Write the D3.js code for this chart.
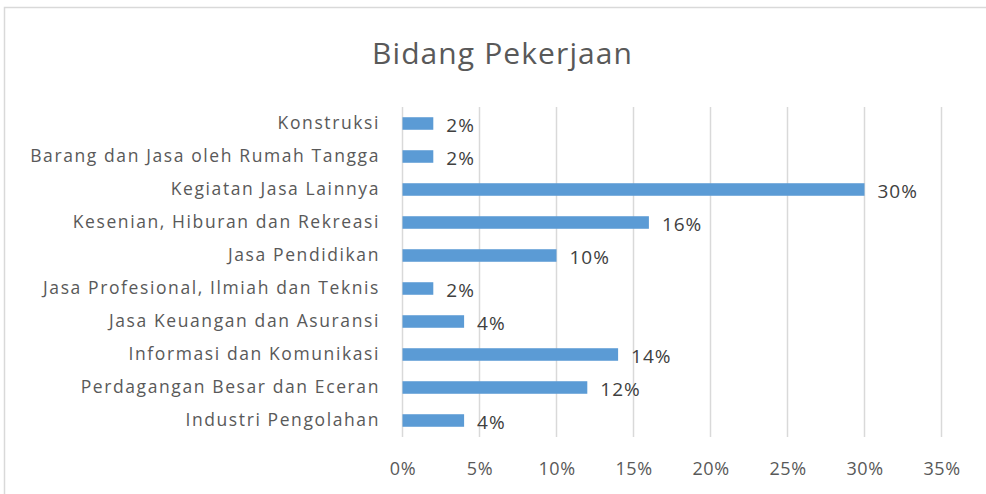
<!DOCTYPE html>
<html>
<head>
<meta charset="utf-8">
<script src="https://cdn.jsdelivr.net/npm/d3@7"></script>
<style>
  body { margin: 0; background: #fff; }
  text { font-family: "Open Sans", sans-serif; }
</style>
</head>
<body>
<div id="chart"></div>
<script>
var w = 986,
    h = 494;

var categories = [
  "Konstruksi",
  "Barang dan Jasa oleh Rumah Tangga",
  "Kegiatan Jasa Lainnya",
  "Kesenian, Hiburan dan Rekreasi",
  "Jasa Pendidikan",
  "Jasa Profesional, Ilmiah dan Teknis",
  "Jasa Keuangan dan Asuransi",
  "Informasi dan Komunikasi",
  "Perdagangan Besar dan Eceran",
  "Industri Pengolahan"
];
var values = [0.02, 0.02, 0.30, 0.16, 0.10, 0.02, 0.04, 0.14, 0.12, 0.04];
var ticks = [0, 0.05, 0.10, 0.15, 0.20, 0.25, 0.30, 0.35];
var title = "Bidang Pekerjaan";

var svg = d3.select("#chart")
    .append("svg")
    .attr("width", w)
    .attr("height", h);

// chart border
svg.append("rect")
    .attr("x", 4.5).attr("y", 7.5)
    .attr("width", 1000).attr("height", 600)
    .attr("fill", "none")
    .attr("stroke", "#d9d9d9")
    .attr("stroke-width", 1.5);

svg.append("text")
    .attr("x", 502).attr("y", 64)
    .attr("text-anchor", "middle")
    .attr("font-size", 30)
    .attr("fill", "#595959")
    .attr("textLength", 260)
    .attr("lengthAdjust", "spacing")
    .text(title);

var x = d3.scaleLinear().domain([0, 0.35]).range([402.5, 941.5]);
var y = d3.scaleBand().domain(categories).range([107, 437]).paddingInner(0.62).paddingOuter(0.31);

// gridlines
svg.append("g")
  .selectAll("line")
  .data(ticks)
  .enter()
  .append("line")
  .attr("x1", function(d) { return x(d); })
  .attr("x2", function(d) { return x(d); })
  .attr("y1", 107)
  .attr("y2", 437)
  .attr("stroke", "#d9d9d9")
  .attr("stroke-width", 1.5);

// x axis labels
var xAxis = d3.axisBottom(x).tickValues(ticks).tickFormat(d3.format(".0%")).tickSize(0).tickPadding(0);
var gx = svg.append("g").attr("transform", "translate(0,469)").call(xAxis);
gx.select(".domain").remove();
gx.selectAll("text")
  .attr("font-size", 18)
  .attr("fill", "#595959")
  .attr("y", 0)
  .attr("dy", "0.35em")
  .style("letter-spacing", "0.6px")
  .style("font-family", null);

// y axis labels
var yAxis = d3.axisLeft(y).tickSize(0).tickPadding(0);
var gy = svg.append("g").attr("transform", "translate(380,0)").call(yAxis);
gy.select(".domain").remove();
gy.selectAll("text")
  .attr("font-size", 17.5)
  .attr("fill", "#595959")
  .style("letter-spacing", "1.6px")
  .style("font-family", null);

// bars
svg.append("g")
  .selectAll("rect")
  .data(values)
  .enter()
  .append("rect")
  .attr("x", x(0))
  .attr("y", function(d, i) { return y(categories[i]); })
  .attr("width", function(d) { return x(d) - x(0); })
  .attr("height", y.bandwidth())
  .attr("fill", "#5b9bd5");

// value labels
svg.append("g")
  .selectAll("text")
  .data(values)
  .enter()
  .append("text")
  .attr("x", function(d) { return x(d) + 13; })
  .attr("y", function(d, i) { return y(categories[i]) + y.bandwidth() / 2 + 2; })
  .attr("dy", "0.35em")
  .attr("font-size", 19)
  .attr("fill", "#404040")
  .style("letter-spacing", "1px")
  .text(function(d) { return d3.format(".0%")(d); });
</script>
</body>
</html>
